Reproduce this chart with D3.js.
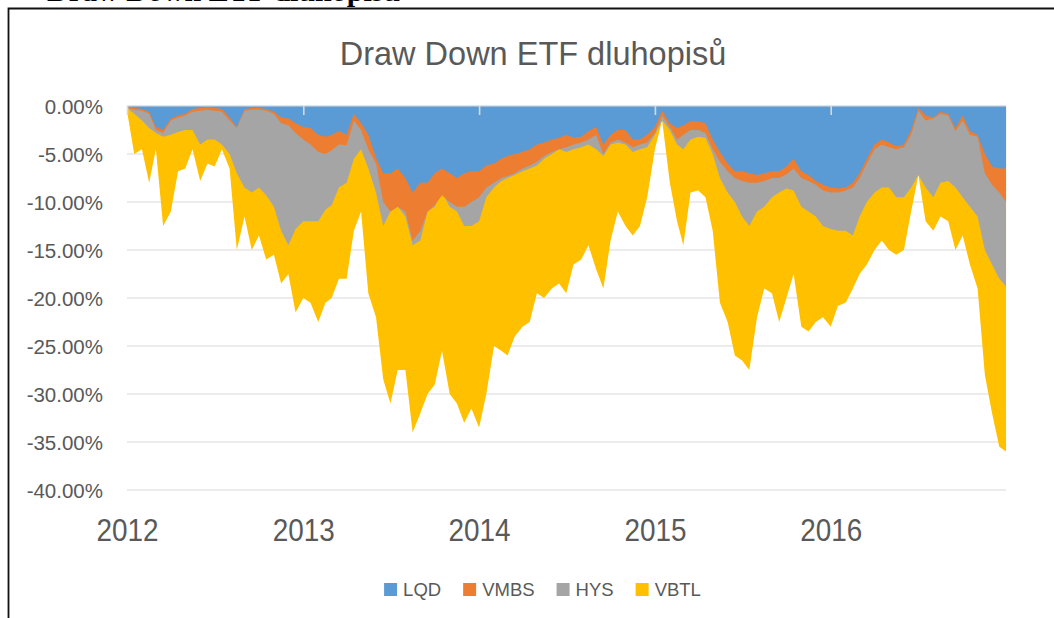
<!DOCTYPE html>
<html>
<head>
<meta charset="utf-8">
<script src="https://cdn.jsdelivr.net/npm/d3@7"></script>
<style>
  body { margin: 0; background: #fff; }
  text { font-family: "Liberation Sans", Arial, sans-serif; }
</style>
</head>
<body>
<div id="chart"></div>
<script>
// sample dates (half-month steps)
var dates = [
  "2012-01-01","2012-01-16","2012-02-01","2012-02-16","2012-03-01","2012-03-16","2012-04-01","2012-04-16","2012-05-01","2012-05-16","2012-06-01","2012-06-16",
  "2012-07-01","2012-07-16","2012-08-01","2012-08-16","2012-09-01","2012-09-16","2012-10-01","2012-10-16","2012-11-01","2012-11-16","2012-12-01","2012-12-16",
  "2013-01-01","2013-01-16","2013-02-01","2013-02-16","2013-03-01","2013-03-16","2013-04-01","2013-04-16","2013-05-01","2013-05-16","2013-06-01","2013-06-16",
  "2013-07-01","2013-07-16","2013-08-01","2013-08-16","2013-09-01","2013-09-16","2013-10-01","2013-10-16","2013-11-01","2013-11-16","2013-12-01","2013-12-16",
  "2014-01-01","2014-01-16","2014-02-01","2014-02-16","2014-03-01","2014-03-16","2014-04-01","2014-04-16","2014-05-01","2014-05-16","2014-06-01","2014-06-16",
  "2014-07-01","2014-07-16","2014-08-01","2014-08-16","2014-09-01","2014-09-16","2014-10-01","2014-10-16","2014-11-01","2014-11-16","2014-12-01","2014-12-16",
  "2015-01-01","2015-01-16","2015-02-01","2015-02-16","2015-03-01","2015-03-16","2015-04-01","2015-04-16","2015-05-01","2015-05-16","2015-06-01","2015-06-16",
  "2015-07-01","2015-07-16","2015-08-01","2015-08-16","2015-09-01","2015-09-16","2015-10-01","2015-10-16","2015-11-01","2015-11-16","2015-12-01","2015-12-16",
  "2016-01-01","2016-01-16","2016-02-01","2016-02-16","2016-03-01","2016-03-16","2016-04-01","2016-04-16","2016-05-01","2016-05-16","2016-06-01","2016-06-16",
  "2016-07-01","2016-07-16","2016-08-01","2016-08-16","2016-09-01","2016-09-16","2016-10-01","2016-10-16","2016-11-01","2016-11-16","2016-12-01","2016-12-16",
  "2016-12-30"
];

// drawdowns in %
var lqd = [
  0, -0.2, -0.3, -0.6, -2.2, -2.5, -1.3, -1.0, -0.8, -0.3, -0.2, -0.1, -0.2, -0.3, -1.2, -2.2, -0.3, -0.2, -0.2, -0.3, -0.6, -1.2, -1.3, -1.8, -2.2, -2.3, -3.0, -3.2, -3.0, -2.6, -3.0,
  -0.8, -1.8, -3.0, -5.4, -7.0, -7.0, -6.5, -7.5, -9.0, -8.0, -8.0, -7.0, -6.5, -7.0, -7.5, -7.0, -6.8, -6.8, -6.2, -6.0, -5.5, -5.2, -5.0, -4.8, -4.5, -4.0, -3.8, -3.5, -3.3, -3.0,
  -3.3, -3.2, -2.6, -2.2, -4.0, -3.0, -2.5, -2.5, -3.5, -3.5, -3.0, -2.2, -0.5, -1.8, -2.3, -2.0, -1.6, -1.6, -1.8, -3.5, -4.8, -6.0, -6.8, -6.8, -7.0, -7.2, -7.0, -6.8, -6.8, -6.3,
  -5.5, -6.8, -7.2, -7.8, -8.2, -8.5, -8.6, -8.5, -8.0, -7.0, -5.5, -4.0, -3.5, -3.8, -4.2, -4.0, -2.5, -0.2, -1.0, -1.2, -0.6, -0.8, -2.3, -1.0, -2.6, -3.0, -5.0, -6.3, -6.5, -6.5
];
var vmbs = [
  -0.2, -0.4, -0.5, -0.8, -2.5, -2.8, -1.5, -1.2, -1.0, -0.6, -0.5, -0.4, -0.5, -0.6, -1.5, -2.3, -0.5, -0.4, -0.4, -0.5, -0.8, -1.8, -2.0, -2.8, -3.5, -4.0, -4.8, -5.0, -4.6, -4.0, -4.1,
  -1.5, -2.5, -4.5, -6.0, -10.0, -11.0, -10.5, -11.0, -14.0, -13.0, -11.0, -10.3, -9.3, -10.0, -10.5, -10.5, -10.0, -9.5, -8.5, -8.0, -7.5, -7.3, -7.0, -6.5, -6.2, -5.8, -5.2, -4.8, -4.5, -4.3,
  -4.0, -3.8, -3.5, -3.0, -5.0, -3.8, -3.5, -3.8, -4.3, -4.0, -3.8, -2.8, -1.0, -2.2, -3.5, -3.0, -2.5, -2.5, -2.8, -4.5, -5.8, -6.8, -7.5, -7.8, -8.0, -8.0, -7.8, -7.5, -7.5, -7.1,
  -6.5, -7.5, -7.8, -8.2, -8.8, -9.0, -9.0, -8.8, -8.5, -7.5, -6.0, -4.5, -4.0, -4.3, -4.5, -4.3, -3.0, -0.5, -1.5, -1.3, -0.8, -1.0, -2.6, -1.5, -3.0, -3.2, -7.0, -8.2, -9.0, -10.0
];
var hys = [
  -0.2, -0.8, -1.5, -2.3, -2.8, -3.2, -3.0, -2.7, -2.5, -2.5, -4.0, -3.5, -3.5, -4.0, -5.0, -7.0, -8.5, -9.0, -8.5, -9.3, -10.5, -13.0, -14.5, -12.8, -12.0, -12.0, -12.0, -10.8, -10.3, -8.5, -8.0,
  -5.5, -4.5, -6.5, -9.0, -12.5, -11.0, -10.5, -11.5, -14.5, -14.0, -11.0, -10.5, -9.0, -10.5, -11.0, -12.5, -12.5, -12.0, -9.5, -8.5, -7.8, -7.5, -7.2, -6.8, -6.5, -6.2, -5.5, -5.0, -4.5, -4.8,
  -4.5, -4.3, -4.0, -4.5, -5.2, -4.0, -3.8, -4.0, -4.8, -4.5, -4.3, -3.0, -1.5, -2.5, -4.0, -4.5, -3.5, -3.2, -3.3, -5.0, -7.5, -9.0, -10.0, -11.5, -12.5, -11.0, -10.5, -9.5, -9.0, -8.6,
  -8.8, -10.5, -11.0, -11.5, -12.5, -12.8, -13.0, -13.0, -13.5, -11.5, -10.0, -9.0, -8.5, -8.5, -9.5, -9.5, -8.5, -7.2, -8.5, -9.5, -8.0, -7.8, -8.5, -9.5, -10.5, -11.5, -15.0, -16.5, -18.0, -18.8
];
var vbtl = [
  -0.5, -5.0, -4.5, -8.0, -4.5, -12.5, -11.0, -6.8, -6.5, -4.5, -7.8, -6.0, -6.3, -4.5, -6.5, -15.0, -11.5, -15.0, -13.5, -16.0, -15.5, -18.5, -17.5, -21.5, -20.0, -20.5, -22.5, -20.5, -20.0, -18.0, -18.0,
  -13.0, -11.0, -19.5, -22.0, -28.5, -31.0, -27.5, -27.5, -34.0, -32.0, -30.0, -29.0, -25.5, -30.0, -31.0, -33.0, -31.5, -33.5, -30.0, -25.0, -25.5, -26.0, -24.0, -23.0, -22.5, -19.5, -20.0, -19.0, -18.5, -19.5,
  -16.5, -16.0, -14.5, -17.0, -19.0, -14.0, -11.0, -12.5, -13.5, -12.5, -9.5, -4.5, -1.5, -8.0, -12.0, -14.5, -9.0, -8.8, -9.5, -13.0, -20.5, -22.5, -26.0, -26.5, -27.5, -22.0, -19.0, -19.5, -22.5, -20.0,
  -17.5, -23.0, -23.5, -22.5, -22.0, -23.0, -20.8, -20.5, -19.0, -17.5, -16.5, -15.0, -14.0, -15.0, -15.5, -15.0, -11.0, -7.2, -12.0, -13.0, -11.5, -12.0, -15.0, -13.5, -16.5, -19.0, -28.0, -32.0, -35.5, -36.0
];

var seriesNames = ["LQD", "VMBS", "HYS", "VBTL"];
var seriesColors = ["#5b9bd5", "#ed7d31", "#a5a5a5", "#ffc000"];
var yTicks = [0, -5, -10, -15, -20, -25, -30, -35, -40];
var yearTicks = ["2012", "2013", "2014", "2015", "2016"];

var W = 1054, H = 618;
var margin = { top: 106, left: 127, bottom: 490 };

var parse = d3.timeParse("%Y-%m-%d");
var dateObjs = dates.map(parse);
var yearDates = yearTicks.map(function (d) { return parse(d + "-01-01"); });

var svg = d3.select("#chart").append("svg")
  .attr("width", W).attr("height", H)
  .style("display", "block");

svg.append("rect").attr("width", W).attr("height", H).attr("fill", "#fff");

// heading of the page above the chart, cut off by the top edge
svg.append("text")
  .attr("x", 47).attr("y", 0.5)
  .style("font-family", "'Liberation Serif', 'Times New Roman', serif")
  .style("font-weight", "bold")
  .style("font-size", "30px")
  .attr("fill", "#000")
  .text("Draw Down ETF dluhopisů");

// frame
svg.append("path")
  .attr("d", "M8.5," + H + "V8.5H" + W)
  .attr("fill", "none")
  .attr("stroke", "#111")
  .attr("stroke-width", 1.8);

var x = d3.scaleTime()
  .domain([parse("2012-01-01"), parse("2017-01-01")])
  .range([margin.left, 1007]);
var y = d3.scaleLinear()
  .domain([-40, 0])
  .range([margin.bottom, margin.top]);

var xEnd = x(dateObjs[dateObjs.length - 1]);

// title
svg.append("text")
  .attr("x", 533).attr("y", 65)
  .attr("text-anchor", "middle")
  .style("font-size", "32.5px")
  .attr("fill", "#595959")
  .text("Draw Down ETF dluhopisů");

// gridlines
svg.append("g").selectAll("line")
  .data(yTicks)
  .enter().append("line")
  .attr("x1", margin.left).attr("x2", xEnd)
  .attr("y1", function (d) { return y(d); })
  .attr("y2", function (d) { return y(d); })
  .attr("stroke", "#d9d9d9")
  .attr("stroke-width", 1.2);

// areas: deepest series first, LQD on top
var seriesData = { LQD: lqd, VMBS: vmbs, HYS: hys, VBTL: vbtl };
var color = d3.scaleOrdinal().domain(seriesNames).range(seriesColors);
var area = d3.area()
  .x(function (d) { return x(d.date); })
  .y0(y(0))
  .y1(function (d) { return y(d.value); });

svg.append("g").selectAll("path")
  .data(seriesNames.slice().reverse())
  .enter().append("path")
  .attr("fill", function (d) { return color(d); })
  .attr("d", function (d) {
    return area(seriesData[d].map(function (v, i) { return { date: dateObjs[i], value: v }; }));
  });

// category axis along zero line with short ticks
var zeroAxis = svg.append("g")
  .attr("transform", "translate(0," + y(0) + ")")
  .call(d3.axisBottom(x).tickValues(yearDates).tickSize(9).tickFormat(""));
zeroAxis.select(".domain").remove();
zeroAxis.selectAll(".tick line").attr("stroke", "#d9d9d9").attr("stroke-width", 1.6);
zeroAxis.append("line")
  .attr("x1", margin.left).attr("x2", xEnd)
  .attr("stroke", "#d9d9d9").attr("stroke-width", 1.2);

// y axis labels
var yAxis = svg.append("g")
  .attr("transform", "translate(" + margin.left + ",0)")
  .call(d3.axisLeft(y).tickValues(yTicks).tickSize(0).tickPadding(24)
    .tickFormat(function (d) { return d.toFixed(2) + "%"; }));
yAxis.select(".domain").remove();
yAxis.selectAll("text")
  .style("font-family", "'Liberation Sans', Arial, sans-serif")
  .style("font-size", "20.5px")
  .attr("fill", "#595959")
  .attr("dy", "0.36em");

// year labels (narrow look as in the original)
var xAxis = svg.append("g")
  .attr("transform", "translate(0," + margin.bottom + ")")
  .call(d3.axisBottom(x).tickValues(yearDates).tickSize(0).tickPadding(29)
    .tickFormat(function (d, i) { return yearTicks[i]; }));
xAxis.select(".domain").remove();
xAxis.selectAll("text")
  .style("font-family", "'Liberation Sans', Arial, sans-serif")
  .style("font-size", "31px")
  .attr("fill", "#595959")
  .attr("textLength", 62)
  .attr("lengthAdjust", "spacingAndGlyphs");

// legend
var legend = svg.append("g");
var items = legend.selectAll("g")
  .data(seriesNames)
  .enter().append("g");
items.append("rect")
  .attr("width", 13).attr("height", 13)
  .attr("y", 583)
  .attr("fill", function (d) { return color(d); });
items.append("text")
  .attr("x", 19).attr("y", 596)
  .style("font-size", "18.5px")
  .attr("fill", "#595959")
  .text(function (d) { return d; });

var gap = 22, pos = 0, widths = [];
items.each(function () {
  var w = 19 + d3.select(this).select("text").node().getComputedTextLength();
  widths.push(w);
});
var total = d3.sum(widths) + gap * (widths.length - 1);
var startX = 542.5 - total / 2;
items.attr("transform", function (d, i) {
  var tx = startX + pos;
  pos += widths[i] + gap;
  return "translate(" + tx + ",0)";
});
</script>
</body>
</html>
